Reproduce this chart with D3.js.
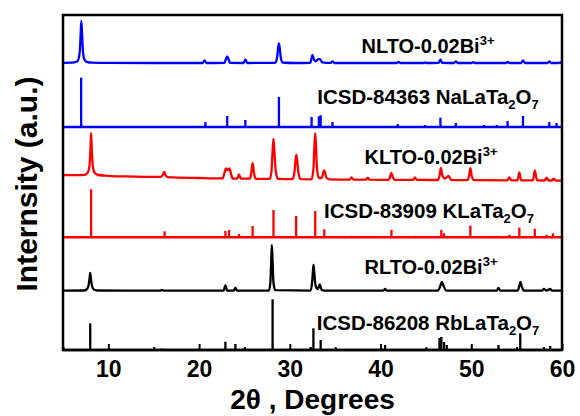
<!DOCTYPE html>
<html>
<head>
<meta charset="utf-8">
<script src="https://cdn.jsdelivr.net/npm/d3@7"></script>
<style>
  html, body { margin: 0; padding: 0; background: #fff; }
  svg { display: block; font-family: "Liberation Sans", Arial, sans-serif; font-weight: bold; }
</style>
</head>
<body>
<svg id="chart" width="580" height="416"></svg>
<script>
// ---------------- DATA ----------------
const xMajorTicks = [10, 20, 30, 40, 50, 60];
const xMinorTicks = [5, 15, 25, 35, 45, 55];
const xTitle = "2θ , Degrees";
const yTitle = "Internsity (a.u.)";

// experimental pattern NLTO-0.02Bi3+ : [2theta, intensity]
const nltoExp = [[5,0.5],[6.0,0.6],[6.5,1.5],[6.7,4],[6.85,12],[6.95,30],[7.02,42.5],[7.1,30],[7.2,12],[7.35,4],[7.6,1.5],[8.2,0.6],[10,0.4],[15,0.3],[20.4,0.3],[20.6,3],[20.8,0.3],[22.8,0.4],[22.95,4],[23.1,7],[23.25,4],[23.4,0.4],[24.9,0.3],[25.1,4],[25.3,0.3],[28.4,0.5],[28.6,6],[28.72,16],[28.8,20],[28.88,16],[29.0,6],[29.2,0.8],[30.5,0.3],[32.25,0.5],[32.4,5],[32.5,8.5],[32.62,5],[32.85,2],[33.2,4.5],[33.35,4],[33.55,1],[34.5,0.4],[34.7,2],[34.9,0.3],[38,0.3],[41.8,0.3],[42,1.5],[42.2,0.3],[44.7,0.3],[44.9,1],[45.1,0.3],[46.4,0.4],[46.6,4],[46.8,0.4],[48.1,0.3],[48.3,2],[48.5,0.3],[50.0,0.3],[50.2,1.2],[50.4,0.3],[53.8,0.3],[54,1.5],[54.2,0.3],[55.5,0.3],[55.7,3],[55.9,0.3],[58.4,0.3],[58.6,2],[58.8,0.3],[59.6,0.3],[59.8,1],[60,0.3]];

// reference ICSD-84363 NaLaTa2O7 : [2theta, intensity]
const nalataSticks = [[7.0,49.3],[20.7,5],[23.1,11],[25.1,7],[28.8,30],[32.4,10],[33.2,10.7],[33.4,11.7],[34.7,5],[41.9,3],[44.9,2],[46.6,9.3],[48.3,4],[51.4,2],[52.8,2],[54.0,6],[55.7,11],[58.6,5],[59.4,4]];

// experimental pattern KLTO-0.02Bi3+
const kltoExp = [[5,6],[6.5,5.8],[7.4,6.2],[7.7,8],[7.9,14],[8.02,30],[8.1,48],[8.18,30],[8.3,14],[8.5,8],[8.9,6],[10,5.2],[12,4.6],[15.8,4.1],[16.0,6],[16.15,9],[16.3,6],[16.5,3.9],[20,3.0],[22.6,2.6],[22.8,8],[22.95,12.5],[23.15,11],[23.35,12.5],[23.5,8],[23.7,2.5],[24.2,2.4],[24.4,6.5],[24.6,2.4],[25.6,2.3],[25.75,8],[25.9,18],[26.05,8],[26.25,2.2],[27.8,2.1],[27.98,10],[28.1,30],[28.2,42],[28.3,30],[28.45,10],[28.7,2.1],[30.3,1.9],[30.5,8],[30.62,20],[30.72,26],[30.82,20],[30.95,8],[31.2,1.8],[32.4,1.7],[32.6,12],[32.72,36],[32.8,47.6],[32.88,36],[33.0,12],[33.2,3],[33.5,3],[33.8,10.5],[34.05,3],[34.4,1.6],[36.6,1.4],[36.8,3.5],[37,1.4],[38.4,1.3],[38.6,3.3],[38.8,1.3],[40.9,1.2],[41.05,4],[41.2,8.2],[41.35,4],[41.55,1.2],[43.6,1.1],[43.8,3.5],[44,1.1],[46.3,1],[46.5,5],[46.65,13],[46.8,6],[47.1,2.5],[47.5,5],[47.8,1],[49.6,0.9],[49.75,5],[49.9,12.8],[50.05,5],[50.3,0.9],[54.0,0.7],[54.2,3.5],[54.4,0.7],[55.1,0.6],[55.3,8.6],[55.5,0.6],[56.8,0.6],[57.0,10.5],[57.25,0.6],[58.1,0.5],[58.3,3.4],[58.5,0.5],[58.9,0.5],[59.1,2.4],[59.3,0.5],[60,0.4]];

// reference ICSD-83909 KLaTa2O7
const klataSticks = [[8.1,48],[16.2,6],[22.9,6.3],[23.3,7.3],[24.4,3.3],[25.9,11.3],[28.2,27.3],[30.7,21.3],[32.8,26.3],[33.8,8],[36.8,1.5],[38.6,1.5],[41.2,7.3],[43.8,1.5],[46.7,7.3],[47.0,4],[49.9,11.7],[52.8,1.5],[54.2,2.5],[55.3,9.7],[57.0,8.3],[58.3,2.5],[59.0,4]];

// experimental pattern RLTO-0.02Bi3+
const rltoExp = [[5,0.4],[7.3,0.5],[7.6,1.5],[7.8,5],[7.92,12],[8.0,18],[8.08,12],[8.2,5],[8.4,1.5],[8.8,0.5],[12,0.3],[15.7,0.3],[15.9,1],[16.1,0.3],[22.7,0.3],[22.9,5.7],[23.1,0.3],[23.8,0.3],[24.0,3.3],[24.2,0.3],[27.7,0.4],[27.85,8],[27.95,30],[28.02,46],[28.1,30],[28.2,8],[28.4,0.8],[32.3,0.4],[32.45,8],[32.55,20],[32.62,26],[32.7,18],[32.85,5],[33.1,2],[33.3,6.7],[33.5,1.2],[33.8,0.3],[40.3,0.3],[40.5,2],[40.7,0.3],[46.3,0.4],[46.55,4],[46.75,9],[46.95,5],[47.2,0.6],[47.5,0.3],[52.8,0.3],[53,3],[53.2,0.3],[55.1,0.3],[55.3,5],[55.42,9],[55.55,5],[55.8,0.3],[57.8,0.3],[58,2],[58.3,0.4],[58.7,2],[58.9,0.3],[60,0.3]];

// reference ICSD-86208 RbLaTa2O7
const rblataSticks = [[8.0,26.7],[15.9,1.5],[22.9,8.3],[24.0,6],[24.9,1.5],[28.1,50.7],[32.3,3],[32.6,21.7],[33.4,10],[35.1,1],[40.5,5],[44.9,1],[46.5,12],[46.7,13],[47.0,8],[47.3,5],[50.2,1],[53.0,5],[55.4,16.7],[58.0,3],[58.7,4]];

// label pieces: [text, mode] mode: n normal, sup, sub
const labelNLTO   = [["NLTO-0.02Bi","n"],["3+","sup"]];
const labelNaRef  = [["ICSD-84363 NaLaTa","n"],["2","sub"],["O","n"],["7","sub"]];
const labelKLTO   = [["KLTO-0.02Bi","n"],["3+","sup"]];
const labelKRef   = [["ICSD-83909 KLaTa","n"],["2","sub"],["O","n"],["7","sub"]];
const labelRLTO   = [["RLTO-0.02Bi","n"],["3+","sup"]];
const labelRbRef  = [["ICSD-86208 RbLaTa","n"],["2","sub"],["O","n"],["7","sub"]];

// ---------------- LAYOUT ----------------
const plot = { left: 63, right: 562, top: 15, bottom: 350 };
const svg = d3.select("#chart");

const x = d3.scaleLinear().domain([5, 60]).range([plot.left, plot.right]);

const panels = [
  { data: nltoExp,      kind: "line",  color: "#0000ff", base: 63.3, label: labelNLTO,  lx: 428, ly: 53, fs: 20 },
  { data: nalataSticks, kind: "stick", color: "#0000ff", base: 127,  label: labelNaRef, lx: 428, ly: 104, fs: 20.5 },
  { data: kltoExp,      kind: "line",  color: "#ff0000", base: 181,  label: labelKLTO,  lx: 431, ly: 164, fs: 20 },
  { data: klataSticks,  kind: "stick", color: "#ff0000", base: 237.3,label: labelKRef,  lx: 429, ly: 218, fs: 20.5 },
  { data: rltoExp,      kind: "line",  color: "#000000", base: 291,  label: labelRLTO,  lx: 431, ly: 274, fs: 20 },
  { data: rblataSticks, kind: "stick", color: "#000000", base: 350,  label: labelRbRef, lx: 428, ly: 330, fs: 20.5 }
];

panels.forEach(p => {
  const y = d3.scaleLinear().domain([0, 50]).range([p.base, p.base - 50]);
  const g = svg.append("g");
  if (p.kind === "line") {
    const line = d3.line().x(d => x(d[0])).y(d => y(d[1])).curve(d3.curveMonotoneX);
    g.append("path").datum(p.data)
      .attr("d", line)
      .attr("fill", "none")
      .attr("stroke", p.color)
      .attr("stroke-width", 2.3)
      .attr("stroke-linejoin", "round");
  } else {
    g.append("line")
      .attr("x1", x(5)).attr("x2", x(60))
      .attr("y1", y(0)).attr("y2", y(0))
      .attr("stroke", p.color).attr("stroke-width", 2.4);
    g.selectAll("line.stick").data(p.data).enter().append("line")
      .attr("class", "stick")
      .attr("x1", d => x(d[0])).attr("x2", d => x(d[0]))
      .attr("y1", y(0)).attr("y2", d => y(d[1]))
      .attr("stroke", p.color).attr("stroke-width", 2.3);
  }
  // label
  const t = svg.append("text")
    .attr("x", p.lx).attr("y", p.ly)
    .attr("text-anchor", "middle")
    .attr("font-size", p.fs)
    .attr("fill", "#000");
  p.label.forEach(([s, mode], i) => {
    const ts = t.append("tspan").text(s);
    const prev = i > 0 ? p.label[i - 1][1] : "n";
    let dy = 0;
    if (prev === "sub") dy -= 5;
    if (prev === "sup") dy += 8;
    if (mode === "sub") dy += 5;
    if (mode === "sup") dy -= 8;
    if (mode !== "n") ts.attr("font-size", 13);
    ts.attr("dy", dy);
  });
});

// frame
svg.append("rect")
  .attr("x", plot.left).attr("y", plot.top)
  .attr("width", plot.right - plot.left).attr("height", plot.bottom - plot.top)
  .attr("fill", "none").attr("stroke", "#000").attr("stroke-width", 2.5);

// x axis (ticks inward)
const axMajor = svg.append("g")
  .attr("transform", `translate(0,${plot.bottom})`)
  .call(d3.axisBottom(x).tickValues(xMajorTicks).tickSize(-6).tickPadding(11).tickFormat(d3.format("d")));
const axMinor = svg.append("g")
  .attr("transform", `translate(0,${plot.bottom})`)
  .call(d3.axisBottom(x).tickValues(xMinorTicks).tickSize(-3).tickFormat(""));
[axMajor, axMinor].forEach(a => {
  a.select(".domain").remove();
  a.selectAll(".tick line").attr("stroke", "#000").attr("stroke-width", 2);
});
axMajor.selectAll(".tick text")
  .attr("font-size", 23)
  .attr("font-weight", "bold")
  .attr("font-family", "'Liberation Sans', Arial, sans-serif")
  .attr("fill", "#000");

// axis titles
svg.append("text")
  .attr("x", (plot.left + plot.right) / 2)
  .attr("y", 409)
  .attr("text-anchor", "middle")
  .attr("font-size", 28)
  .text(xTitle);

svg.append("text")
  .attr("transform", `translate(37,${184}) rotate(-90)`)
  .attr("text-anchor", "middle")
  .attr("font-size", 30)
  .text(yTitle);
</script>
</body>
</html>
